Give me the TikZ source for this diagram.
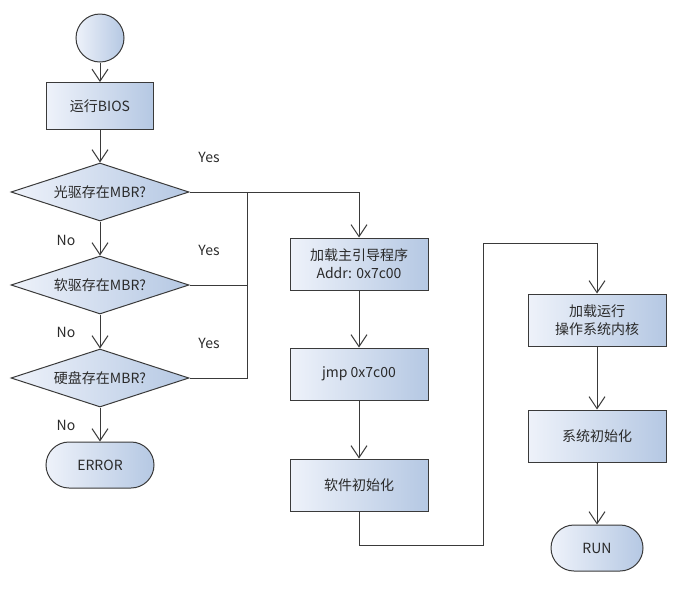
\documentclass[tikz,border=0pt]{standalone}
\usepackage{fontspec}
\setmainfont{Noto Sans CJK SC}
\usetikzlibrary{arrows.meta, positioning, shapes.geometric}

\definecolor{boxline}{HTML}{3A3A3A}
\definecolor{boxleft}{HTML}{EEF2FA}
\definecolor{boxright}{HTML}{B5C8E3}
\definecolor{txt}{HTML}{2A2A2A}

\tikzset{
  gradfill/.style={draw=boxline, line width=1pt, left color=boxleft, right color=boxright, text=txt},
  stepbox/.style={gradfill, rectangle, minimum width=107pt, minimum height=47pt, inner sep=0pt, align=center},
  wide/.style={stepbox, minimum width=138pt, minimum height=52pt},
  test/.style={gradfill, diamond, aspect=3, minimum width=178pt, minimum height=58pt, inner sep=0pt},
  term/.style={gradfill, rectangle, rounded corners=23pt, minimum width=108pt, minimum height=46pt},
  arr/.style={draw=boxline, line width=1pt, -{Straight Barb[length=12pt, width=16pt]}},
  lbl/.style={text=txt}
}

\begin{document}
\begin{tikzpicture}[x=1pt, y=-1pt, font=\fontsize{14}{18}\selectfont]
  \useasboundingbox (0,0) rectangle (677,590);
  % left column
  \node[gradfill, circle, minimum size=48pt, inner sep=0pt] (start) at (100,38) {};
  \node[stepbox] (bios) at (100,106) {运行BIOS};
  \node[test] (cd) at (100,192) {光驱存在MBR?};
  \node[test] (fd) at (100,285) {软驱存在MBR?};
  \node[test] (hd) at (100,378) {硬盘存在MBR?};
  \node[term] (err) at (100,465) {ERROR};
  % middle column
  \node[wide] (load) at (359,264) {加载主引导程序\\Addr: 0x7c00};
  \node[wide] (jmp) at (359,374) {jmp 0x7c00};
  \node[wide] (soft) at (359,485) {软件初始化};
  % right column
  \node[wide] (kern) at (597,320) {加载运行\\操作系统内核};
  \node[wide] (sys) at (597,436) {系统初始化};
  \node[term, minimum width=92pt] (run) at (597,548) {RUN};

  \coordinate (join) at (247,192);
  \coordinate (b1) at (483,545);
  \coordinate (b2) at (483,243);

  \draw[arr] (start) -- (bios);
  \draw[arr] (bios) -- (cd);
  \draw[arr] (cd) -- (fd);
  \draw[arr] (fd) -- (hd);
  \draw[arr] (hd) -- (err);
  \draw[arr] (cd.east) -| (load.north);
  \draw[draw=boxline, line width=1pt] (fd.east) -- (fd.east -| join);
  \draw[draw=boxline, line width=1pt] (hd.east) -| (join);
  \draw[arr] (load) -- (jmp);
  \draw[arr] (jmp) -- (soft);
  \draw[arr] (soft.south) |- (b1) -- (b2) -| (kern.north);
  \draw[arr] (kern) -- (sys);
  \draw[arr] (sys) -- (run);

  \node[lbl] (y1) at (209,157) {Yes};
  \node[lbl] (y2) at (209,250) {Yes};
  \node[lbl] (y3) at (209,343) {Yes};
  \node[lbl] (n1) at (66,240) {No};
  \node[lbl] (n2) at (66,332) {No};
  \node[lbl] (n3) at (66,425) {No};
\end{tikzpicture}
\end{document}
